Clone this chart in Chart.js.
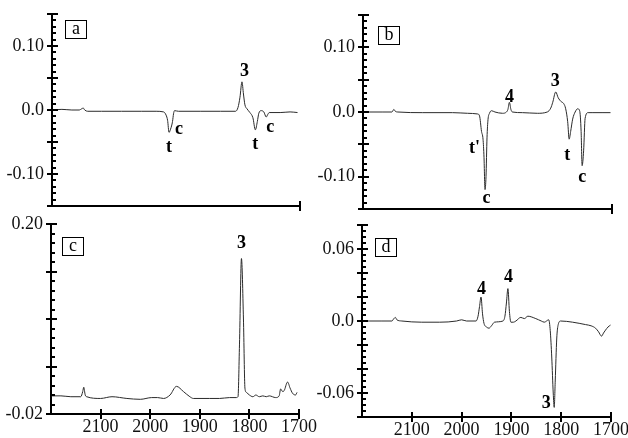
<!DOCTYPE html>
<html>
<head>
<meta charset="utf-8">
<script src="https://cdn.jsdelivr.net/npm/chart.js@4.4.1/dist/chart.umd.min.js"></script>
<style>
  html, body { margin: 0; padding: 0; background: #fff; }
  #wrap { position: relative; width: 628px; height: 438px; }
  #wrap canvas { position: absolute; left: 0; top: 0; }
</style>
</head>
<body>
<div id="wrap">
  <canvas id="pa" width="628" height="438"></canvas>
  <canvas id="pb" width="628" height="438"></canvas>
  <canvas id="pc" width="628" height="438"></canvas>
  <canvas id="pd" width="628" height="438"></canvas>
</div>
<script>
// ---- data (wavenumber / cm-1, absorbance) ----

const wnA = [2200, 2180, 2160, 2145, 2140, 2137, 2134, 2128, 2100, 2060, 2020, 1990, 1975, 1970, 1967, 1964,
  1961, 1959, 1957, 1955, 1953, 1945, 1900, 1860, 1830, 1825, 1821, 1817, 1814, 1811, 1807, 1801, 1795, 1790,
  1786, 1783, 1778, 1773, 1768, 1765, 1762, 1740, 1720, 1705]
const absA = [0.000, 0.001, 0.000, 0.000, 0.002, 0.003, 0.000, -0.002, -0.002, -0.002, -0.002, -0.002, -0.003,
  -0.008, -0.016, -0.035, -0.030, -0.025, -0.018, -0.006, -0.001, -0.002, -0.002, -0.002, -0.002, 0.004, 0.020,
  0.044, 0.025, 0.008, 0.002, -0.004, -0.012, -0.031, -0.018, -0.005, -0.001, -0.003, -0.011, -0.007, -0.004,
  -0.004, -0.003, -0.004]

const wnB = [2200, 2160, 2142, 2138, 2135, 2130, 2080, 2020, 1990, 1970, 1966, 1962, 1959, 1957, 1955, 1953,
  1951, 1949, 1946, 1942, 1935, 1920, 1912, 1909, 1906, 1903, 1900, 1880, 1850, 1830, 1823, 1819, 1813, 1808,
  1802, 1797, 1793, 1789, 1786, 1783, 1779, 1774, 1769, 1765, 1762, 1760, 1757, 1754, 1748, 1740, 1720, 1703]
const absB = [0.000, 0.000, 0.000, 0.004, 0.001, 0.000, -0.001, -0.001, -0.002, -0.003, -0.006, -0.030, -0.042,
  -0.070, -0.120, -0.100, -0.040, -0.012, -0.002, 0.002, 0.000, -0.002, 0.000, 0.004, 0.015, 0.004, 0.000,
  -0.001, -0.002, 0.000, 0.006, 0.015, 0.031, 0.022, 0.016, 0.013, 0.005, -0.015, -0.042, -0.030, -0.011,
  0.000, 0.005, 0.002, -0.030, -0.083, -0.060, -0.010, -0.001, -0.001, -0.001, -0.001]

const wnC = [2200, 2180, 2160, 2140, 2136, 2134, 2131, 2128, 2100, 2077, 2047, 2020, 1997, 1985, 1973, 1960,
  1947, 1933, 1920, 1913, 1880, 1860, 1840, 1827, 1823, 1820, 1816, 1812, 1809, 1806, 1800, 1793, 1787, 1780,
  1773, 1766, 1760, 1747, 1740, 1737, 1733, 1730, 1723, 1718, 1713, 1707, 1704]
const absC = [0.001, 0.001, 0.000, 0.000, 0.006, 0.011, 0.002, 0.000, -0.002, 0.000, -0.002, -0.003, -0.001,
  -0.001, -0.002, 0.002, 0.012, 0.006, 0.000, -0.002, -0.002, -0.002, -0.001, -0.001, 0.000, 0.060, 0.160,
  0.090, 0.010, 0.005, 0.002, 0.000, 0.002, 0.000, 0.001, 0.000, 0.001, -0.001, 0.001, 0.009, 0.006, 0.007,
  0.017, 0.010, 0.004, 0.002, 0.005]

const wnD = [2200, 2160, 2140, 2136, 2133, 2130, 2120, 2080, 2044, 2010, 2000, 1990, 1971, 1967, 1964, 1961,
  1958, 1955, 1950, 1945, 1940, 1934, 1917, 1913, 1910, 1907, 1904, 1901, 1896, 1891, 1881, 1874, 1867, 1851,
  1840, 1834, 1825, 1822, 1819, 1816, 1814, 1812, 1809, 1806, 1801, 1777, 1751, 1740, 1731, 1725, 1719, 1715,
  1711, 1706, 1701]
const absD = [0.000, 0.000, 0.000, 0.002, 0.003, 0.001, 0.000, -0.001, -0.001, 0.000, 0.001, 0.000, 0.000, 0.004,
  0.012, 0.020, 0.006, -0.002, -0.005, -0.006, -0.004, -0.001, 0.000, 0.004, 0.015, 0.027, 0.008, -0.001,
  -0.001, 0.000, 0.003, 0.002, 0.004, 0.002, 0.000, -0.001, 0.001, -0.008, -0.030, -0.060, -0.072, -0.050,
  -0.015, -0.003, 0.000, -0.001, -0.003, -0.004, -0.006, -0.009, -0.0126, -0.010, -0.0076, -0.005, -0.0034]

// axis ticks
const xTickLabels = [2100, 2000, 1900, 1800, 1700]
const yTicksAB = [0.10, 0.0, -0.10]
const yTextAB = ['0.10', '0.0', '-0.10']
const yMajorAB = [-0.15, -0.10, -0.05, 0, 0.05, 0.10, 0.15]
const yTicksC = [0.20, -0.02]
const yTextC = ['0.20', '-0.02']
const yMajorC = [-0.02, 0.035, 0.09, 0.145, 0.20]
const yTicksD = [0.06, 0.0, -0.06]
const yTextD = ['0.06', '0.0', '-0.06']
const yMajorD = [-0.08, -0.06, -0.04, -0.02, 0, 0.02, 0.04, 0.06, 0.08]

// peak labels: text, wavenumber, absorbance
const peakTextA = ['3', 't', 'c', 't', 'c']
const peakWnA = [1812, 1964, 1944, 1790, 1760]
const peakAbsA = [0.061, -0.058, -0.031, -0.053, -0.027]
const peakTextB = ['4', '3', "t'", 'c', 't', 'c']
const peakWnB = [1906, 1814, 1976, 1952, 1790, 1760]
const peakAbsB = [0.023, 0.047, -0.056, -0.133, -0.067, -0.101]
const peakTextC = ['3']
const peakWnC = [1816]
const peakAbsC = [0.178]
const peakTextD = ['4', '4', '3']
const peakWnD = [1960, 1906, 1830]
const peakAbsD = [0.026, 0.036, -0.069]

Chart.defaults.font.family = '"Liberation Serif", serif'
Chart.defaults.color = '#111'

const SERIF = '"Liberation Serif", serif'
const Y_AXIS_W = 50

const marks = {
  id: 'marks',
  afterDraw(chart, args, o) {
    const { ctx, chartArea: ca, scales: { x, y } } = chart
    ctx.save()
    ctx.strokeStyle = '#000'
    ctx.fillStyle = '#000'
    ctx.lineWidth = 2

    // major ticks cross the y axis
    o.yMajor.forEach(v => {
      const py = Math.round(y.getPixelForValue(v))
      ctx.beginPath()
      ctx.moveTo(ca.left - 5, py)
      ctx.lineTo(ca.left + 6, py)
      ctx.stroke()
    })
    // minor ticks are just dots
    for (let v = y.min; v <= y.max + 1e-9; v += o.yMinor) {
      const py = Math.round(y.getPixelForValue(v))
      ctx.fillRect(ca.left, py - 1, 4, 2)
    }
    // x ticks
    o.xMarks.forEach(v => {
      const px = Math.round(x.getPixelForValue(v))
      ctx.beginPath()
      ctx.moveTo(px, ca.bottom - 5)
      ctx.lineTo(px, ca.bottom + 5)
      ctx.stroke()
    })

    // boxed panel letter
    ctx.lineWidth = 1
    const bx = ca.left + o.boxDx, by = ca.top + o.boxDy
    ctx.strokeRect(bx + 0.5, by + 0.5, 21, 18)
    ctx.font = '18px ' + SERIF
    ctx.textAlign = 'center'
    ctx.textBaseline = 'middle'
    ctx.fillText(o.letter, bx + 11, by + 9)

    // peak labels
    ctx.font = 'bold 18px ' + SERIF
    o.peakText.forEach((t, i) => {
      ctx.fillText(t, x.getPixelForValue(o.peakWn[i]), y.getPixelForValue(o.peakAbs[i]))
    })
    ctx.restore()
  }
}

function panel(id, p) {
  const points = p.wn.map((w, i) => ({ x: w, y: p.abs[i] }))
  const xh = p.showX ? 24 : 0
  return new Chart(document.getElementById(id), {
    type: 'line',
    data: {
      datasets: [{
        data: points,
        borderColor: '#2a2a2a',
        borderWidth: 1,
        pointRadius: 0,
        cubicInterpolationMode: 'monotone',
        fill: false
      }]
    },
    plugins: [marks],
    options: {
      responsive: false,
      animation: false,
      events: [],
      layout: {
        padding: {
          left: p.area[0] - Y_AXIS_W,
          top: p.area[1],
          right: 628 - p.area[2],
          bottom: 438 - p.area[3] - xh
        }
      },
      plugins: {
        legend: { display: false },
        tooltip: { enabled: false },
        marks: {
          yMajor: p.yMajor, yMinor: p.yMinor, xMarks: p.xMarks,
          letter: p.letter, boxDx: p.box[0], boxDy: p.box[1],
          peakText: p.peakText, peakWn: p.peakWn, peakAbs: p.peakAbs
        }
      },
      scales: {
        x: {
          type: 'linear',
          reverse: true,
          min: 1700,
          max: 2200,
          afterFit: s => { s.height = xh; s.paddingLeft = 0; s.paddingRight = 0 },
          afterBuildTicks: s => { s.ticks = xTickLabels.map(v => ({ value: v })) },
          grid: { display: false, drawTicks: false },
          border: { display: true, width: 2, color: '#000' },
          ticks: {
            display: p.showX, autoSkip: false, maxRotation: 0, padding: 2,
            font: { size: 18 },
            callback: v => String(v)
          }
        },
        y: {
          min: p.yMin,
          max: p.yMax,
          afterFit: s => { s.width = Y_AXIS_W; s.paddingTop = 0; s.paddingBottom = 0 },
          afterBuildTicks: s => { s.ticks = p.yTicks.map(v => ({ value: v })) },
          grid: { display: false, drawTicks: false },
          border: { display: true, width: 2, color: '#000' },
          ticks: {
            autoSkip: false,
            padding: 8,
            font: { size: 18 },
            callback: (v, i) => p.yText[i]
          }
        }
      }
    }
  })
}

panel('pa', {
  wn: wnA, abs: absA, area: [52, 14, 300, 206], showX: false,
  yMin: -0.15, yMax: 0.15, yTicks: yTicksAB, yText: yTextAB, yMajor: yMajorAB, yMinor: 0.01,
  xMarks: [1700], letter: 'a', box: [13, 6],
  peakText: peakTextA, peakWn: peakWnA, peakAbs: peakAbsA
})
panel('pb', {
  wn: wnB, abs: absB, area: [363, 15, 612, 209], showX: false,
  yMin: -0.15, yMax: 0.15, yTicks: yTicksAB, yText: yTextAB, yMajor: yMajorAB, yMinor: 0.01,
  xMarks: [1700], letter: 'b', box: [15, 11],
  peakText: peakTextB, peakWn: peakWnB, peakAbs: peakAbsB
})
panel('pc', {
  wn: wnC, abs: absC, area: [51, 224, 299, 414], showX: true,
  yMin: -0.02, yMax: 0.20, yTicks: yTicksC, yText: yTextC, yMajor: yMajorC, yMinor: 0.011,
  xMarks: xTickLabels, letter: 'c', box: [11, 13],
  peakText: peakTextC, peakWn: peakWnC, peakAbs: peakAbsC
})
panel('pd', {
  wn: wnD, abs: absD, area: [362, 225, 611, 417], showX: true,
  yMin: -0.08, yMax: 0.08, yTicks: yTicksD, yText: yTextD, yMajor: yMajorD, yMinor: 0.005,
  xMarks: xTickLabels, letter: 'd', box: [13, 13],
  peakText: peakTextD, peakWn: peakWnD, peakAbs: peakAbsD
})
</script>
</body>
</html>
